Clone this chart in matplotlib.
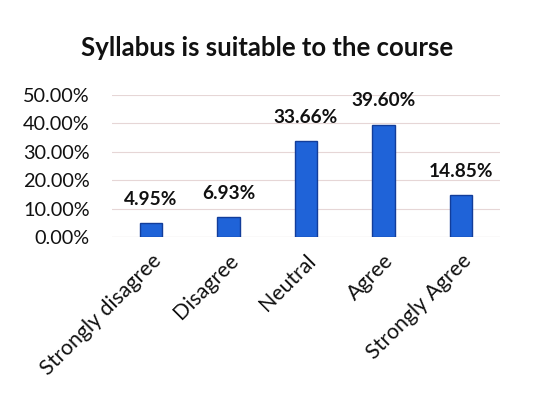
import matplotlib
matplotlib.use("Agg")
import matplotlib.pyplot as plt
from matplotlib.ticker import FuncFormatter
from matplotlib.transforms import ScaledTranslation

categories = ["Strongly disagree", "Disagree", "Neutral", "Agree", "Strongly Agree"]
values = [4.95, 6.93, 33.66, 39.60, 14.85]
yticks = [0, 10, 20, 30, 40, 50]

plt.rcParams['font.family'] = ['Lato', 'DejaVu Sans']

fig = plt.figure(figsize=(5.42, 4.05), dpi=100)
fig.patch.set_facecolor('white')
ax = fig.add_axes([0.2066, 0.4148, 0.7159, 0.3506])

x = list(range(len(categories)))
bars = ax.bar(x, values, width=0.29, color='#1F63D8', edgecolor='#123D9A', linewidth=1.0, zorder=3)
for xi, v in zip(x, values):
    ax.annotate(f"{v:.2f}%", (xi, v), xytext=(0, 17), textcoords='offset points',
                ha='center', va='center', fontsize=13.7, fontweight='bold', color='#111111')

ax.set_xlim(-0.5, len(categories) - 0.5)
ax.set_ylim(0, 50)
ax.set_yticks(yticks)
ax.yaxis.set_major_formatter(FuncFormatter(lambda v, p: f"{v:.2f}%"))
ax.set_xticks(x)
ax.set_xticklabels(categories, rotation=45, ha='right', rotation_mode='anchor', fontsize=15.3, color='#111111')
off = ScaledTranslation(12 / 100, -10 / 100, fig.dpi_scale_trans)
for lbl in ax.get_xticklabels():
    lbl.set_transform(lbl.get_transform() + off)
ax.tick_params(axis='y', labelsize=14.3, labelcolor='#111111', length=0, pad=16)
ax.tick_params(axis='x', length=0, pad=10)
ax.grid(axis='y', color='#E6D6D6', linewidth=0.8, zorder=0)
for s in ax.spines.values():
    s.set_visible(False)
ax.axhline(0, color='#D8D0D0', linewidth=0.8, zorder=2)

fig.text(0.493, 0.881, "Syllabus is suitable to the course", ha='center', va='center', fontsize=18.5, fontweight='bold', color='#111111')

fig.savefig("out.png", dpi=100)
